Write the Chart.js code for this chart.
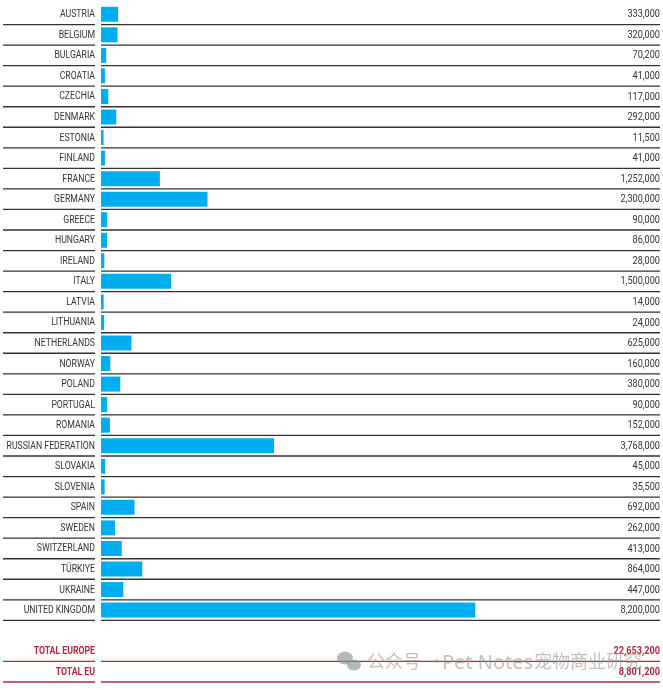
<!DOCTYPE html>
<html>
<head>
<meta charset="utf-8">
<script src="https://cdn.jsdelivr.net/npm/chart.js@4.4.1/dist/chart.umd.min.js"></script>
<style>
  html, body { margin: 0; padding: 0; background: #ffffff; }
  #wrap { width: 663px; height: 690px; position: relative; }
</style>
</head>
<body>
<div id="wrap"><canvas id="c" width="663" height="690"></canvas></div>
<script>
const countries = ["AUSTRIA","BELGIUM","BULGARIA","CROATIA","CZECHIA","DENMARK","ESTONIA","FINLAND","FRANCE","GERMANY","GREECE","HUNGARY","IRELAND","ITALY","LATVIA","LITHUANIA","NETHERLANDS","NORWAY","POLAND","PORTUGAL","ROMANIA","RUSSIAN FEDERATION","SLOVAKIA","SLOVENIA","SPAIN","SWEDEN","SWITZERLAND","TÜRKIYE","UKRAINE","UNITED KINGDOM"];
const values = [333000,320000,70200,41000,117000,292000,11500,41000,1252000,2300000,90000,86000,28000,1500000,14000,24000,625000,160000,380000,90000,152000,3768000,45000,35500,692000,262000,413000,864000,447000,8200000];
const totalLabels = ["TOTAL EUROPE","TOTAL EU"];
const totalValues = [22653200, 8801200];
const watermarkParts = ["公众号", "·", "Pet Notes", "宠物商业研究"];

const labels = countries.concat([""], totalLabels);
const barData = values.concat([null, null, null]);
const valueTexts = values.map(v => v.toLocaleString("en-US")).concat([""], totalValues.map(v => v.toLocaleString("en-US")));
const nC = countries.length;
const isTotal = i => i > nC;

const FONT = "Roboto, 'Noto Sans', sans-serif";
const RED = "#b8283d";
const BLUE = "#00aeef";
const SQUEEZE = 0.87;

function condensedText(ctx, text, x, y, align) {
  ctx.save();
  ctx.translate(x, y);
  ctx.scale(SQUEEZE, 1);
  ctx.textAlign = align;
  ctx.textBaseline = "middle";
  ctx.fillText(text, 0, 0);
  ctx.restore();
}

const rowsPlugin = {
  id: "rows",
  afterDatasetsDraw(chart) {
    const ctx = chart.ctx, y = chart.scales.y, area = chart.chartArea;
    const step = y.getPixelForValue(1) - y.getPixelForValue(0);
    ctx.save();
    for (let i = 0; i < labels.length; i++) {
      if (labels[i] === "") continue;
      const cy = y.getPixelForValue(i);
      const ly = cy + step / 2;
      const tot = isTotal(i);
      ctx.strokeStyle = tot ? RED : "#333333";
      ctx.lineWidth = 1.3;
      ctx.beginPath();
      ctx.moveTo(3, ly); ctx.lineTo(95, ly);
      ctx.moveTo(area.left, ly); ctx.lineTo(area.right, ly);
      ctx.stroke();
      ctx.fillStyle = tot ? RED : "#333333";
      ctx.font = (tot ? "bold " : "") + "10px " + FONT;
      condensedText(ctx, labels[i], area.left - 6, cy + 0.5, "right");
      ctx.font = (tot ? "bold " : "") + "10.5px " + FONT;
      condensedText(ctx, valueTexts[i], area.right, cy + 0.5, "right");
    }
    ctx.restore();
  },
  afterDraw(chart) {
    const ctx = chart.ctx;
    ctx.save();
    ctx.globalAlpha = 0.62;
    ctx.fillStyle = "#8c8c8c";
    ctx.beginPath(); ctx.ellipse(345, 658, 8, 6.5, 0, 0, Math.PI * 2); ctx.fill();
    ctx.beginPath(); ctx.ellipse(354, 665, 7, 5.5, 0, 0, Math.PI * 2); ctx.fill();
    ctx.fillStyle = "#999999";
    ctx.textAlign = "left";
    ctx.textBaseline = "alphabetic";
    ctx.font = "18px 'Noto Sans CJK SC', sans-serif";
    ctx.fillText(watermarkParts[0], 367, 668);
    ctx.fillText(watermarkParts[1], 428, 668);
    ctx.font = "20px 'Noto Sans', 'Open Sans', sans-serif";
    ctx.fillText(watermarkParts[2], 442, 669);
    ctx.font = "18px 'Noto Sans CJK SC', sans-serif";
    ctx.fillText(watermarkParts[3], 534, 668);
    ctx.restore();
  }
};

new Chart(document.getElementById("c"), {
  type: "bar",
  data: {
    labels: labels,
    datasets: [{
      data: barData,
      backgroundColor: BLUE,
      borderWidth: 0,
      barPercentage: 0.73,
      categoryPercentage: 1,
      base: -45000
    }]
  },
  options: {
    indexAxis: "y",
    responsive: false,
    animation: false,
    layout: { padding: { top: 4, bottom: 8, left: 0, right: 3 } },
    plugins: { legend: { display: false }, tooltip: { enabled: false } },
    scales: {
      x: { display: false, min: -45000, max: 12270000 },
      y: {
        afterFit(s) { s.width = 101; },
        grid: { display: false, drawTicks: false },
        border: { display: false },
        ticks: { display: false, autoSkip: false }
      }
    }
  },
  plugins: [rowsPlugin]
});
</script>
</body>
</html>
